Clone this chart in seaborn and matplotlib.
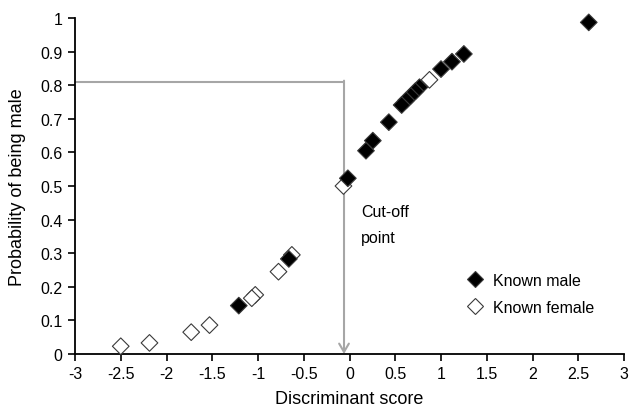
import matplotlib
matplotlib.use("Agg")
import matplotlib.pyplot as plt
import seaborn as sns
import pandas as pd
from matplotlib.lines import Line2D

# ---- data ----
male_x = [2.615, 1.25, 1.12, 1.0, 0.765, 0.72, 0.67, 0.62, 0.57, 0.43, 0.255, 0.18, -0.018, -0.663, -1.21]
male_y = [0.987, 0.893, 0.87, 0.848, 0.794, 0.782, 0.768, 0.755, 0.741, 0.69, 0.635, 0.605, 0.523, 0.283, 0.144]
female_x = [0.874, -0.066, -0.63, -0.776, -1.03, -1.068, -1.53, -1.73, -2.186, -2.50]
female_y = [0.816, 0.50, 0.295, 0.245, 0.176, 0.166, 0.086, 0.065, 0.033, 0.023]
groups = ["Known male", "Known female"]
cutoff_x = -0.06
cutoff_y = 0.81
x_ticks = [-3, -2.5, -2, -1.5, -1, -0.5, 0, 0.5, 1, 1.5, 2, 2.5, 3]
y_ticks = [0, 0.1, 0.2, 0.3, 0.4, 0.5, 0.6, 0.7, 0.8, 0.9, 1]

df = pd.DataFrame({
    "score": female_x + male_x,
    "prob": female_y + male_y,
    "group": [groups[1]] * len(female_x) + [groups[0]] * len(male_x),
})

sns.set_style("ticks")
plt.rcParams["font.family"] = ["Liberation Sans", "DejaVu Sans"]
for key in ["text.color", "axes.labelcolor", "xtick.color", "ytick.color",
            "xtick.labelcolor", "ytick.labelcolor"]:
    plt.rcParams[key] = "black"

fig = plt.figure(figsize=(6.29, 4.10), dpi=100)
ax = fig.add_axes([75 / 629, 1 - 355 / 410, 549 / 629, 336 / 410])

# cut-off guide lines
ax.plot([-3, cutoff_x], [cutoff_y, cutoff_y], color="#a6a6a6", lw=1.5, zorder=1,
        solid_capstyle="butt")
ax.annotate("", xy=(cutoff_x, 0.0), xytext=(cutoff_x, cutoff_y + 0.0035),
            arrowprops=dict(arrowstyle="->,head_length=0.6,head_width=0.35",
                            color="#a6a6a6", lw=1.5, shrinkA=0, shrinkB=0),
            zorder=1)

palette = {groups[0]: "black", groups[1]: "white"}
sns.scatterplot(data=df, x="score", y="prob", hue="group", palette=palette,
                marker="D", s=72, edgecolor="#3a3a3a", linewidth=0.8,
                legend=False, ax=ax, zorder=3, clip_on=False)

ax.text(0.128, 0.425, "Cut-off", fontsize=11.5, va="center", ha="left")
ax.text(0.128, 0.347, "point", fontsize=11.5, va="center", ha="left")

ax.set_xlim(-3, 3)
ax.set_ylim(0, 1)
ax.set_xticks(x_ticks)
ax.set_xticklabels([f"{t:g}" for t in x_ticks])
ax.set_yticks(y_ticks)
ax.set_yticklabels([f"{t:g}" for t in y_ticks])
ax.tick_params(axis="both", labelsize=11.5, length=5, width=1.2, color="black",
               labelcolor="black", direction="out", pad=4)
for side in ["top", "right"]:
    ax.spines[side].set_visible(False)
for side in ["left", "bottom"]:
    ax.spines[side].set_linewidth(1.3)
    ax.spines[side].set_color("black")

ax.set_xlabel("Discriminant score", fontsize=13, labelpad=6, color="black")
ax.set_ylabel("Probability of being male", fontsize=13, labelpad=10, color="black")

handles = [
    Line2D([], [], marker="D", ls="", markersize=8.5, markerfacecolor="black",
           markeredgecolor="#3a3a3a", markeredgewidth=0.8),
    Line2D([], [], marker="D", ls="", markersize=8.5, markerfacecolor="white",
           markeredgecolor="#3a3a3a", markeredgewidth=0.8),
]
ax.legend(handles, groups, loc="upper left", frameon=False, fontsize=11.5,
          bbox_to_anchor=((467 - 75) / 549, (355 - 274) / 336),
          borderaxespad=0, handlelength=1.0, handletextpad=0.6,
          labelspacing=0.75, borderpad=0, labelcolor="black")

fig.savefig("out.png", dpi=100)
